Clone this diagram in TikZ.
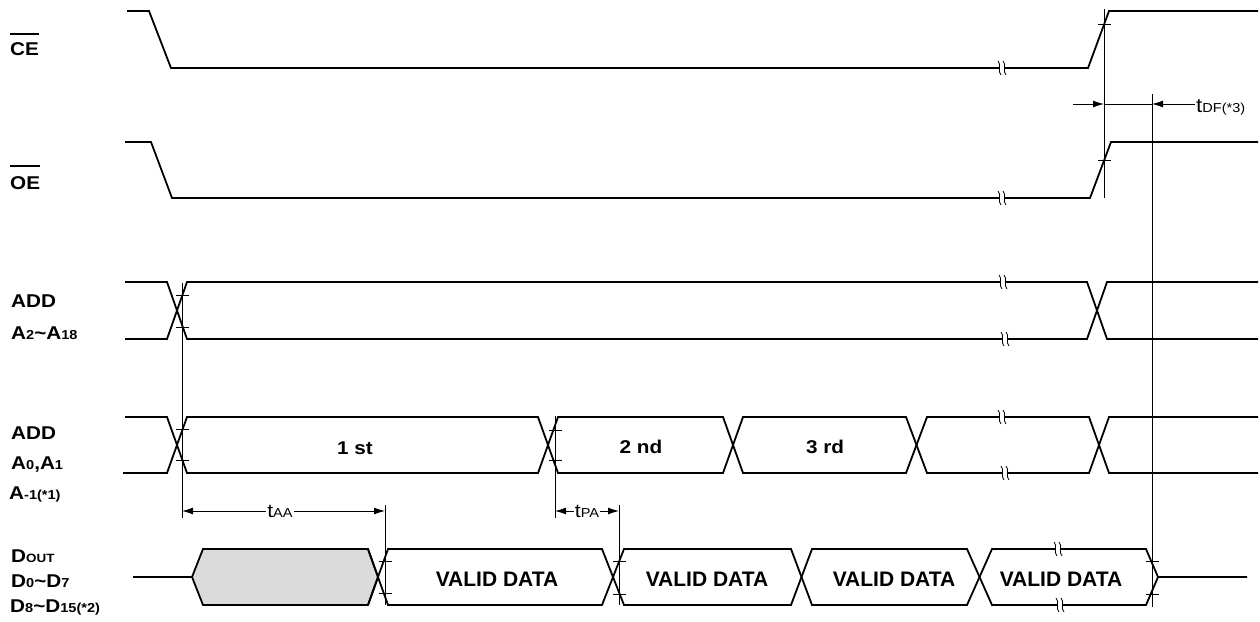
\documentclass[tikz,border=0pt]{standalone}
\usepackage{fontspec}
\setmainfont{Liberation Sans}
\newfontfamily\lblfont[FakeStretch=1.12]{Liberation Sans}
\usetikzlibrary{arrows.meta}
\newcommand\mysub[1]{{\fontsize{13}{14}\selectfont #1}}
\newcommand\mysubs[1]{{\fontsize{12}{13}\selectfont #1}}
\begin{document}
\begin{tikzpicture}[x=1pt,y=-1pt,
  sig/.style={line width=1.8pt, line join=miter},
  thinln/.style={line width=0.9pt},
  tickln/.style={line width=0.9pt},
  dim/.style={line width=0.9pt, {Latex[length=11pt,width=7pt]}-{Latex[length=11pt,width=7pt]}},
  dimr/.style={line width=0.9pt, -{Latex[length=11pt,width=7pt]}},
  lbl/.style={inner sep=0pt, anchor=base west, font=\lblfont\bfseries\fontsize{18.5}{20}\selectfont},
  cyc/.style={inner sep=0pt, anchor=base, font=\lblfont\bfseries\fontsize{18.5}{20}\selectfont},
  vd/.style={inner sep=0pt, anchor=base, font=\bfseries\fontsize{21}{24}\selectfont},
  tlbl/.style={inner sep=1pt, anchor=base, fill=white, font=\lblfont\fontsize{19}{20}\selectfont},
  brk/.pic={
    \fill[white] (-2.6,-3) rectangle (2.6,3);
    \draw[line width=0.8pt] (-4,-7) .. controls (0,-3) and (-5,3) .. (-1,7);
    \draw[line width=0.8pt] (1,-7) .. controls (5,-3) and (0,3) .. (4,7);
  }]
\useasboundingbox (0,0) rectangle (1260,621);

% ---------- labels ----------
\node[lbl] (ce) at (10,55) {CE};
\draw[line width=2pt] ([yshift=8pt]ce.north west) -- ([yshift=8pt]ce.north east);
\node[lbl] (oe) at (10,189) {OE};
\draw[line width=2pt] ([yshift=10pt]oe.north west) -- ([yshift=10pt]oe.north east);
\node[lbl] (addh) at (11,307) {ADD};
\node[lbl] (ahi) at (11,339) {A\mysub{2}\textasciitilde A\mysub{18}};
\node[lbl] (addl) at (11,439) {ADD};
\node[lbl] (alo) at (11,469) {A\mysub{0},A\mysub{1}};
\node[lbl] (am) at (9,499) {A\mysub{-1(*1)}};
\node[lbl] (dout) at (11,562) {D\mysubs{OUT}};
\node[lbl] (dlo) at (11,587) {D\mysub{0}\textasciitilde D\mysub{7}};
\node[lbl] (dhi) at (10,612) {D\mysub{8}\textasciitilde D\mysub{15(*2)}};

% ---------- CE / OE ----------
\draw[sig] (127,11) -- (149,11) -- (171,68) -- (1088,68) -- (1109,11) -- (1258,11);
\draw[sig] (125,142) -- (151,142) -- (172,198) -- (1090,198) -- (1111,142) -- (1258,142);
\pic at (1002,68) {brk};
\pic at (1002,198) {brk};

% ---------- ADD A2~A18 ----------
\draw[sig] (125,282) -- (167,282) -- (187,339) -- (1087,339) -- (1107,282) -- (1258,282);
\draw[sig] (125,339) -- (167,339) -- (187,282) -- (1087,282) -- (1107,339) -- (1258,339);
\pic at (1003,282) {brk};
\pic at (1005,339) {brk};

% ---------- ADD A0,A1 ----------
\draw[sig] (125,417) -- (167,417) -- (187,473) -- (538,473) -- (558,417) -- (723,417) -- (743,473) -- (906,473) -- (927,417) -- (1089,417) -- (1109,473) -- (1258,473);
\draw[sig] (123,473) -- (167,473) -- (187,417) -- (538,417) -- (558,473) -- (723,473) -- (743,417) -- (906,417) -- (927,473) -- (1089,473) -- (1109,417) -- (1258,417);
\pic at (1002,417) {brk};
\pic at (1005,473) {brk};
\node[cyc] (c1) at (355,454) {1 st};
\node[cyc] (c2) at (641,453) {2 nd};
\node[cyc] (c3) at (825,453) {3 rd};

% ---------- DOUT ----------
\draw[sig] (133,577) -- (192,577);
\draw[sig, fill=black!14] (192,577) -- (203,549) -- (368,549) -- (378,577) -- (368,605) -- (203,605) -- cycle;
\draw[sig] (368,549) -- (388,605) -- (602,605) -- (624,549) -- (791,549) -- (812,605) -- (967,605) -- (992,549) -- (1146,549) -- (1158,577) -- (1247,577);
\draw[sig] (368,605) -- (388,549) -- (602,549) -- (624,605) -- (791,605) -- (812,549) -- (967,549) -- (992,605) -- (1146,605) -- (1158,577);
\pic at (1058,549) {brk};
\pic at (1060,605) {brk};
\node[vd] (v1) at (497,586) {VALID DATA};
\node[vd] (v2) at (707,586) {VALID DATA};
\node[vd] (v3) at (894,586) {VALID DATA};
\node[vd] (v4) at (1061,586) {VALID DATA};

% ---------- timing reference lines ----------
\coordinate (ceT) at (1104,9);   \coordinate (oeB) at (1104,198);
\coordinate (dfT) at (1152,94);  \coordinate (dfB) at (1152,607);
\coordinate (aT) at (182,283);   \coordinate (aB) at (182,518);
\coordinate (pT) at (555,416);   \coordinate (pB) at (555,518);
\coordinate (aaT) at (385,505);  \coordinate (aaB) at (385,605);
\coordinate (paT) at (619,505);  \coordinate (paB) at (619,605);
\draw[thinln] (ceT) -- (oeB);
\draw[thinln] (dfT) -- (dfB);
\draw[thinln] (aT) -- (aB);
\draw[thinln] (pT) -- (pB);
\draw[thinln] (aaT) -- (aaB);
\draw[thinln] (paT) -- (paB);

% ticks
\foreach \x/\y in {1104/24, 1104/160, 182/295, 182/327, 182/429, 182/460, 555/430, 555/460, 385/561, 385/593, 619/561, 619/594, 1152/561, 1152/594}
  \draw[tickln] (\x-6,\y) -- (\x+7,\y);

% ---------- tDF ----------
\coordinate (dfa) at (1073,104);
\coordinate (dfm) at (1104,104);
\coordinate (dfn) at (1152,104);
\coordinate (dfe) at (1195,104);
\draw[dimr] (dfa) -- (dfm);
\draw[thinln] (dfm) -- (dfn);
\draw[dimr] (dfe) -- (dfn);
\node[inner sep=0pt, anchor=base west, font=\lblfont\fontsize{20}{20}\selectfont] (tdf) at (1196,112) {t\mysub{DF(*3)}};

% ---------- tAA / tPA ----------
\coordinate (taaL) at (182,511);
\coordinate (taaR) at (385,511);
\draw[dim] (taaL) -- (taaR);
\node[tlbl] (taa) at (280,517) {t\mysub{AA}};
\coordinate (tpaL) at (555,511);
\coordinate (tpaR) at (619,511);
\draw[dim] (tpaL) -- (tpaR);
\node[tlbl] (tpa) at (587,517) {t\mysub{PA}};
\end{tikzpicture}
\end{document}
